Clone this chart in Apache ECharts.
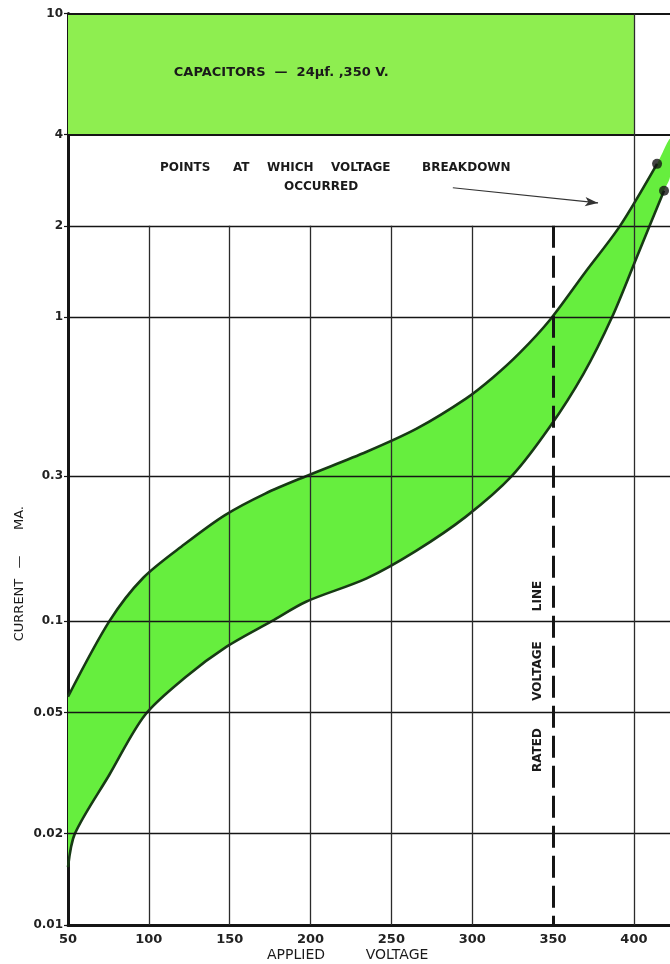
<!DOCTYPE html>
<html>
<head>
<meta charset="utf-8">
<script src="https://cdn.jsdelivr.net/npm/echarts@6/dist/echarts.min.js"></script>
<style>
html,body{margin:0;padding:0;background:#fff;}
#chart{width:670px;height:964px;}
</style>
</head>
<body>
<div id="chart"></div>
<script>
// ---- data ----
const voltageTicks = [50, 100, 150, 200, 250, 300, 350, 400];
const currentTicks = [0.01, 0.02, 0.05, 0.1, 0.3, 1, 2, 4, 10];
const currentTickLabels = ['0.01', '0.02', '0.05', '0.1', '0.3', '1', '2', '4', '10'];

const upperVolt = [50, 75.6, 96.4, 122, 147.1, 172, 197.2, 234.7, 265.6, 296.1, 313, 329.5, 348, 370, 391.4, 414.3];
const upperCurr = [0.0564, 0.1, 0.1387, 0.179, 0.2234, 0.263, 0.3, 0.361, 0.43, 0.54, 0.635, 0.765, 0.98, 1.41, 2.0, 3.2];

const lowerVolt = [50, 54.3, 75.4, 97.6, 123, 148.1, 176, 197.2, 234.7, 265, 296.1, 324.4, 348, 368.7, 386.4, 402, 418.6];
const lowerCurr = [0.0155, 0.02, 0.0311, 0.0491, 0.0656, 0.0824, 0.1, 0.1159, 0.1383, 0.17, 0.2208, 0.3, 0.436, 0.65, 1.0, 1.59, 2.61];

// fill band continues past the breakdown points to the chart's right edge
const bandEdgeUpper = [422.3, 3.87];
const bandEdgeLower = [422.3, 2.9];

const breakdownPoints = [[414.3, 3.2], [418.6, 2.61]];
const ratedVoltage = 350;
const headerBox = [[50, 4], [400, 10]];

// ---- styling ----
const BAND = '#66ee3e';
const BOX = '#8eee50';
const CURVE = '#173a14';
const GRID = '#2b2b2b';
const INK = '#151515';
const FONT = "'DejaVu Sans', 'Liberation Sans', sans-serif";
const XMIN = 50, XMAX = 422.3;
const SMOOTH = 0.3;

const chart = echarts.init(document.getElementById('chart'), null, {renderer: 'canvas'});

function labelFor(v) {
  let best = 0, bd = Infinity;
  currentTicks.forEach((t, i) => {
    const d = Math.abs(Math.log10(v) - Math.log10(t));
    if (d < bd) { bd = d; best = i; }
  });
  return currentTickLabels[best];
}

// grid lines as markLines
const gridLines = [];
currentTicks.forEach(t => {
  if (t === 0.01) return;
  const w = (t === 10 || t === 4) ? 2.2 : 1.3;
  gridLines.push([{coord: [XMIN, t], lineStyle: {color: INK, width: w, type: 'solid'}}, {coord: [XMAX, t]}]);
});
voltageTicks.forEach(v => {
  if (v === 50) return;
  if (v === ratedVoltage) {
    gridLines.push([{coord: [v, 2], lineStyle: {color: INK, width: 3, type: [22, 8]}}, {coord: [v, 0.01]}]);
  } else if (v === 400) {
    gridLines.push([{coord: [v, 10], lineStyle: {color: GRID, width: 1.3, type: 'solid'}}, {coord: [v, 0.01]}]);
  } else {
    gridLines.push([{coord: [v, 2], lineStyle: {color: GRID, width: 1.3, type: 'solid'}}, {coord: [v, 0.01]}]);
  }
});
// arrow pointing to breakdown points
gridLines.push([
  {coord: [288, 2.67], symbol: 'none', lineStyle: {color: '#333', width: 1.1, type: 'solid'}},
  {coord: [377.8, 2.38], symbol: 'arrow', symbolSize: [7, 13]}
]);

function toPts(api, xs, ys) {
  return xs.map((x, i) => api.coord([x, ys[i]]));
}
function bboxOf(pts) {
  return [pts[0].slice(), pts[0].slice()];
}

const option = {
  animation: false,
  backgroundColor: '#fff',
  grid: {left: 68, right: 0, top: 13.5, bottom: 39, containLabel: false},
  xAxis: {
    type: 'value', min: XMIN, max: XMAX,
    axisLine: {show: true, onZero: false, lineStyle: {color: INK, width: 3}},
    axisTick: {show: false},
    splitLine: {show: false},
    axisLabel: {
      customValues: voltageTicks,
      formatter: v => String(Math.round(v)),
      color: '#222', fontFamily: FONT, fontSize: 13, fontWeight: 'bold', margin: 8
    }
  },
  yAxis: {
    type: 'log', logBase: 10, min: 0.01, max: 10,
    axisLine: {show: true, lineStyle: {color: INK, width: 3}},
    axisTick: {show: true, customValues: currentTicks, length: 4, lineStyle: {color: INK, width: 1.2}},
    splitLine: {show: false},
    minorSplitLine: {show: false},
    axisLabel: {
      customValues: currentTicks,
      formatter: v => labelFor(v),
      color: '#222', fontFamily: FONT, fontSize: 12, fontWeight: 'bold', margin: 5
    }
  },
  series: [
    {
      type: 'line', data: [], silent: true,
      markArea: {
        silent: true,
        itemStyle: {color: BOX},
        label: {
          show: true, position: ['18.7%', '49%'], align: 'left', verticalAlign: 'middle',
          formatter: 'CAPACITORS  —  24μf. ,350 V.',
          color: '#1a1a1a', fontFamily: FONT, fontSize: 13, fontWeight: 'bold'
        },
        data: [[{coord: headerBox[0]}, {coord: headerBox[1]}]]
      }
    },
    {
      type: 'custom', silent: true, z: 2,
      data: [[XMIN, 0.05]],
      renderItem: function (params, api) {
        const up = toPts(api, upperVolt, upperCurr);
        const lo = toPts(api, lowerVolt, lowerCurr);
        const loRev = lo.slice().reverse();
        const pts = up.concat(
          [api.coord(bandEdgeUpper), api.coord(bandEdgeLower)],
          loRev,
          [lo[0].slice(), up[0].slice()]
        );
        return {
          type: 'polygon',
          shape: {points: pts, smooth: SMOOTH, smoothConstraint: bboxOf(pts)},
          style: {fill: BAND, stroke: null}
        };
      }
    },
    {
      type: 'line', data: [], silent: true, z: 3,
      markLine: {
        silent: true, symbol: 'none', animation: false,
        label: {show: false},
        data: gridLines
      }
    },
    {
      type: 'custom', silent: true, z: 4,
      data: [[XMIN, 0.05]],
      renderItem: function (params, api) {
        const up = toPts(api, upperVolt, upperCurr);
        const lo = toPts(api, lowerVolt, lowerCurr);
        return {
          type: 'group',
          children: [
            {type: 'polyline', shape: {points: up, smooth: SMOOTH, smoothConstraint: bboxOf(up)},
             style: {fill: null, stroke: CURVE, lineWidth: 2.6}},
            {type: 'polyline', shape: {points: lo, smooth: SMOOTH, smoothConstraint: bboxOf(lo)},
             style: {fill: null, stroke: CURVE, lineWidth: 2.6}}
          ]
        };
      }
    },
    {
      type: 'scatter', z: 5, silent: true,
      data: breakdownPoints,
      symbol: 'circle', symbolSize: 10,
      itemStyle: {color: INK}
    }
  ],
  graphic: [
    ...[['POINTS', 160], ['AT', 233], ['WHICH', 267], ['VOLTAGE', 331], ['BREAKDOWN', 422]].map(([t, x]) => ({
      type: 'text', x: x, y: 168, silent: true,
      style: {text: t, fill: '#1a1a1a', fontFamily: FONT, fontSize: 12, fontWeight: 'bold', textAlign: 'left', textVerticalAlign: 'middle'}
    })),
    {
      type: 'text', x: 284, y: 187, silent: true,
      style: {text: 'OCCURRED', fill: '#1a1a1a', fontFamily: FONT, fontSize: 12, fontWeight: 'bold', textAlign: 'left', textVerticalAlign: 'middle'}
    },
    ...[['RATED', 750], ['VOLTAGE', 671], ['LINE', 596]].map(([t, y]) => ({
      type: 'text', x: 538, y: y, rotation: Math.PI / 2, silent: true,
      style: {text: t, fill: '#1a1a1a', fontFamily: FONT, fontSize: 12, fontWeight: 'bold', textAlign: 'center', textVerticalAlign: 'middle'}
    })),
    ...[['CURRENT', 610], ['—', 562], ['MA.', 518]].map(([t, y]) => ({
      type: 'text', x: 20, y: y, rotation: Math.PI / 2, silent: true,
      style: {text: t, fill: '#1a1a1a', fontFamily: FONT, fontSize: 13, textAlign: 'center', textVerticalAlign: 'middle'}
    })),
    ...[['APPLIED', 296], ['VOLTAGE', 397]].map(([t, x]) => ({
      type: 'text', x: x, y: 955, silent: true,
      style: {text: t, fill: '#1a1a1a', fontFamily: FONT, fontSize: 14, textAlign: 'center', textVerticalAlign: 'middle'}
    }))
  ]
};

chart.setOption(option);
</script>
</body>
</html>
